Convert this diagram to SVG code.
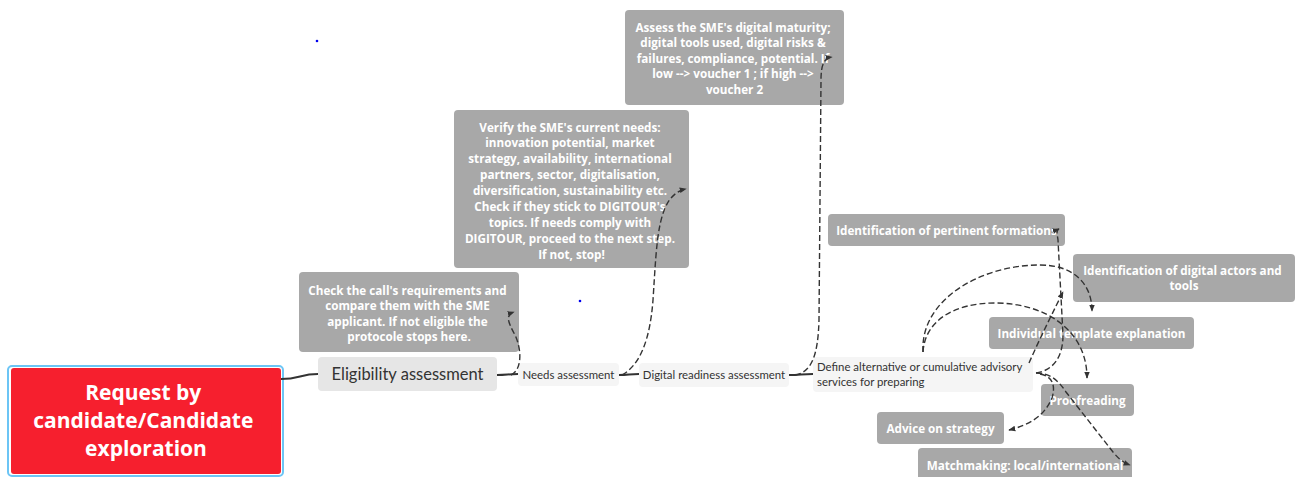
<svg xmlns="http://www.w3.org/2000/svg" width="1299" height="477" viewBox="0 0 1299 477">
<defs>
<style>
.box{fill:#a8a8a8;}
.wt{font-family:"Open Sans","Liberation Sans",sans-serif;font-weight:bold;font-size:11.7px;fill:#ffffff;text-anchor:middle;}
.sub{font-family:Lato,"Liberation Sans",sans-serif;font-size:11.4px;fill:#333333;}
.main{fill:none;stroke:#333333;stroke-width:2;}
.dash{fill:none;stroke:#333333;stroke-width:1.4;stroke-dasharray:6 3;marker-end:url(#arr);}
</style>
<marker id="arr" viewBox="0 0 10 10" refX="9" refY="5" markerWidth="7" markerHeight="7" markerUnits="userSpaceOnUse" orient="auto">
<path d="M0,1 L10,5 L0,9 z" fill="#333333"/>
</marker>
</defs>
<rect width="1299" height="477" fill="#ffffff"/>
<circle cx="317" cy="41" r="1.3" fill="#0000ee"/>
<circle cx="580" cy="301" r="1.3" fill="#0000ee"/>

<g id="request">
<rect x="8" y="366" width="275" height="110" rx="4" fill="none" stroke="#6cc5f5" stroke-width="2"/>
<rect x="11" y="368" width="270" height="106" rx="3" fill="#f61f2e"/>
<text font-family="'Open Sans','Liberation Sans',sans-serif" font-weight="bold" font-size="21" fill="#ffffff" text-anchor="middle">
<tspan x="146" y="400">Request by</tspan>
<tspan x="146" y="428">candidate/Candidate</tspan>
<tspan x="146" y="456">exploration</tspan>
</text>
</g>

<g id="eligibility">
<rect x="318" y="357" width="179" height="34" rx="4" fill="#e6e6e6"/>
<text x="407.5" y="380" font-family="Lato,'Liberation Sans',sans-serif" font-size="16.5" fill="#333333" text-anchor="middle">Eligibility assessment</text>
</g>

<g id="check">
<rect class="box" x="299" y="272" width="220" height="80" rx="4"/>
<text class="wt">
<tspan x="409" y="294.5">Check the call's requirements and</tspan>
<tspan x="409" y="310">compare them with the SME</tspan>
<tspan x="409" y="325.5">applicant. If not eligible the</tspan>
<tspan x="409" y="341">protocole stops here.</tspan>
</text>
</g>

<g id="needs">
<rect x="518" y="363" width="101" height="23" rx="4" fill="#f5f5f5"/>
<text class="sub" x="568.5" y="378.5" text-anchor="middle">Needs assessment</text>
</g>

<g id="verify">
<rect class="box" x="454" y="110" width="235" height="158" rx="4"/>
<text class="wt">
<tspan x="571.5" y="131.5">Verify the SME's current needs:</tspan>
<tspan x="571.5" y="147.4">innovation potential, market</tspan>
<tspan x="571.5" y="163.3">strategy, availability, international</tspan>
<tspan x="571.5" y="179.2">partners, sector, digitalisation,</tspan>
<tspan x="571.5" y="195.1">diversification, sustainability etc.</tspan>
<tspan x="571.5" y="211">Check if they stick to DIGITOUR's</tspan>
<tspan x="571.5" y="226.9">topics. If needs comply with</tspan>
<tspan x="571.5" y="242.8">DIGITOUR, proceed to the next step.</tspan>
<tspan x="571.5" y="258.7">If not, stop!</tspan>
</text>
</g>

<g id="digital">
<rect x="639" y="363" width="150" height="24" rx="4" fill="#f5f5f5"/>
<text class="sub" x="714" y="378.5" text-anchor="middle">Digital readiness assessment</text>
</g>

<g id="assess">
<rect class="box" x="625" y="10" width="219" height="95" rx="4"/>
<text class="wt">
<tspan x="734.5" y="32">Assess the SME's digital maturity;</tspan>
<tspan x="734.5" y="47.4">digital tools used, digital risks &amp;</tspan>
<tspan x="734.5" y="62.8">failures, compliance, potential. If</tspan>
<tspan x="734.5" y="78.2">low --&gt; voucher 1 ; if high --&gt;</tspan>
<tspan x="734.5" y="93.6">voucher 2</tspan>
</text>
</g>

<g id="define">
<rect x="813" y="357" width="220" height="35" rx="4" fill="#f5f5f5"/>
<text class="sub" font-size="11.7">
<tspan x="817" y="371">Define alternative or cumulative advisory</tspan>
<tspan x="817" y="386">services for preparing</tspan>
</text>
</g>

<g id="formations">
<rect class="box" x="828" y="214" width="237" height="32" rx="4"/>
<text class="wt" x="946.5" y="234.5" font-size="13">Identification of pertinent formations</text>
</g>

<g id="actors">
<rect class="box" x="1073" y="254" width="222" height="48" rx="4"/>
<text class="wt" font-size="13">
<tspan x="1184" y="274.5">Identification of digital actors and</tspan>
<tspan x="1184" y="289.5">tools</tspan>
</text>
</g>

<g id="template">
<rect class="box" x="989" y="317" width="205" height="32" rx="4"/>
<text class="wt" x="1091.5" y="337.5" font-size="13">Individual template explanation</text>
</g>

<g id="proofreading">
<rect class="box" x="1041" y="384" width="93" height="32" rx="4"/>
<text class="wt" x="1087.5" y="405" font-size="13">Proofreading</text>
</g>

<g id="advice">
<rect class="box" x="877" y="412" width="127" height="32" rx="4"/>
<text class="wt" x="940.5" y="432.5" font-size="13">Advice on strategy</text>
</g>

<g id="matchmaking">
<rect class="box" x="918" y="448" width="214" height="34" rx="4"/>
<text class="wt" x="1025" y="469.5" font-size="13">Matchmaking: local/international</text>
</g>

<g id="connectors">
<path class="main" stroke-width="2.5" d="M281,379 C300,379 300,374 318,374"/>
<path class="main" d="M497,375 C507,375 508,374 518,374"/>
<path class="main" d="M619,375 C629,375 629,374 639,374"/>
<path class="main" d="M789,375 C800,375 802,374 813,374"/>
<path class="dash" d="M511,375 C522,370 522,350 515,335 C508,322 505,315 514,312"/>
<path class="dash" d="M622,375 C640,365 650,340 653,300 C657,240 657,195 686,189"/>
<path class="dash" d="M795,375 C812,372 818,355 819,320 L821,80 C821,65 824,58 832,57"/>
<path class="dash" d="M923,352 C920,300 980,265 1040,265 C1075,265 1092,285 1092,311"/>
<path class="dash" d="M923,352 C925,320 955,303 995,303 C1045,303 1087,330 1087,378"/>
<path class="dash" d="M1029,363 C1040,338 1055,308 1063,292"/>
<path class="dash" d="M1036,373 C1055,370 1063,355 1063,335 L1058,240 C1057,233 1056,230 1059,229"/>
<path class="dash" d="M1036,373 C1050,373 1058,380 1066,392 L1113,452 C1118,458 1122,462 1130,465"/>
<path class="dash" d="M1040,374 C1052,376 1056,385 1052,398 C1045,415 1030,425 1009,430"/>
</g>
</svg>
